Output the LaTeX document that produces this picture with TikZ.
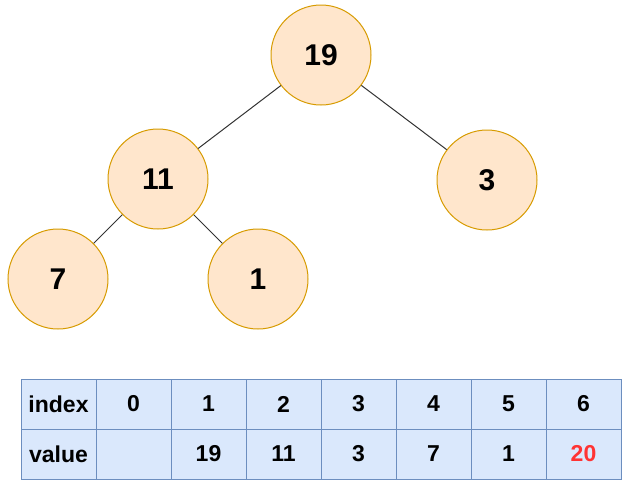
\documentclass[tikz,border=0pt]{standalone}
\usepackage{fontspec}
\setmainfont{Liberation Sans}
\definecolor{nodefill}{HTML}{FFE6CC}
\definecolor{nodeline}{HTML}{D79B00}
\definecolor{cellfill}{HTML}{DAE8FC}
\definecolor{cellline}{HTML}{6C8EBF}
\definecolor{newval}{HTML}{FF3333}
\tikzset{
  heapnode/.style={circle, minimum size=100pt, inner sep=0pt, fill=nodefill, draw=nodeline, line width=1pt,
    font=\fontsize{30}{32}\selectfont\bfseries},
  edge/.style={draw=black!80, line width=1pt},
  cell/.style={rectangle, minimum width=75pt, minimum height=50pt, inner sep=0pt, fill=cellfill, draw=cellline, line width=1pt,
    font=\fontsize{23}{25}\selectfont\bfseries}
}
\begin{document}
\begin{tikzpicture}[x=1pt,y=-1pt]
\useasboundingbox (0,0) rectangle (631,491);
\node[heapnode] (n19) at (321,55) {19};
\node[heapnode] (n11) at (158,179) {11};
\node[heapnode] (n3) at (487,180) {3};
\node[heapnode] (n7) at (58,279) {7};
\node[heapnode] (n1) at (258,279) {1};
\draw[edge] (n19) -- (n11);
\draw[edge] (n19) -- (n3);
\draw[edge] (n11) -- (n7);
\draw[edge] (n11) -- (n1);
\node[cell] (i0) at (58.5,404) {index};
\node[cell] (i1) at (133.5,404) {0};
\node[cell] (i2) at (208.5,404) {1};
\node[cell] (i3) at (283.5,404) {2};
\node[cell] (i4) at (358.5,404) {3};
\node[cell] (i5) at (433.5,404) {4};
\node[cell] (i6) at (508.5,404) {5};
\node[cell] (i7) at (583.5,404) {6};
\node[cell] (v0) at (58.5,454) {value};
\node[cell] (v1) at (133.5,454) {};
\node[cell] (v2) at (208.5,454) {19};
\node[cell] (v3) at (283.5,454) {11};
\node[cell] (v4) at (358.5,454) {3};
\node[cell] (v5) at (433.5,454) {7};
\node[cell] (v6) at (508.5,454) {1};
\node[cell, text=newval] (v7) at (583.5,454) {20};
\end{tikzpicture}
\end{document}
